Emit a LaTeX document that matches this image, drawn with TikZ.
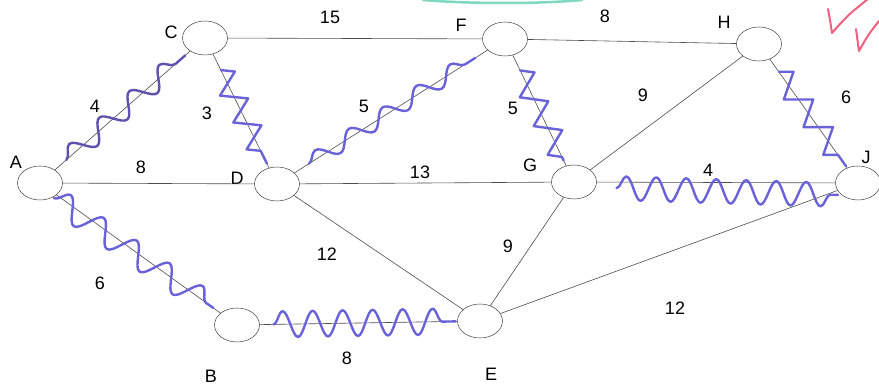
\documentclass[tikz,border=0pt]{standalone}
\usepackage{fontspec}
\setmainfont{Liberation Sans}
\usetikzlibrary{shapes.geometric,decorations.pathmorphing,calc}
\definecolor{pen}{HTML}{6A62D8}
\definecolor{darkpen}{HTML}{5A4A9A}
\definecolor{teal1}{HTML}{7FD8C0}
\definecolor{redpen}{HTML}{F06080}
\begin{document}
\begin{tikzpicture}[x=1pt,y=1pt,
  vert/.style={ellipse,draw=black!75,line width=0.5pt,minimum width=45pt,minimum height=34pt,inner sep=0pt},
  vlabel/.style={font=\fontsize{18}{20}\selectfont},
  wlabel/.style={font=\fontsize{18}{20}\selectfont},
  edge/.style={draw=black!70,line width=0.6pt},
  wavy/.style={draw=pen,line width=2.4pt,line cap=round,line join=round},
]
\useasboundingbox (0,0) rectangle (879,385);
% vertices
\node[vert] (A) at (40,202) {};
\node[vert] (C) at (205,347) {};
\node[vert] (D) at (277,201) {};
\node[vert] (F) at (505,346) {};
\node[vert] (G) at (574,203) {};
\node[vert] (H) at (759,341) {};
\node[vert] (J) at (858,202) {};
\node[vert] (B) at (237,60) {};
\node[vert] (E) at (480,64) {};
% vertex labels
\node[vlabel] (lA) at (16,223) {A};
\node[vlabel] (lC) at (171,353) {C};
\node[vlabel] (lD) at (237,207) {D};
\node[vlabel] (lF) at (461,360) {F};
\node[vlabel] (lG) at (530,220) {G};
\node[vlabel] (lH) at (724,363) {H};
\node[vlabel] (lJ) at (866,228) {J};
\node[vlabel] (lB) at (211,9) {B};
\node[vlabel] (lE) at (491,11) {E};
% edges
\draw[edge] (A) -- (C);
\draw[edge] (A) -- (D);
\draw[edge] (A) -- (B);
\draw[edge] (C) -- (F);
\draw[edge] (C) -- (D);
\draw[edge] (D) -- (F);
\draw[edge] (D) -- (G);
\draw[edge] (D) -- (E);
\draw[edge] (B) -- (E);
\draw[edge] (F) -- (H);
\draw[edge] (F) -- (G);
\draw[edge] (G) -- (H);
\draw[edge] (G) -- (J);
\draw[edge] (G) -- (E);
\draw[edge] (H) -- (J);
\draw[edge] (E) -- (J);
% weights
\node[wlabel] (wAC) at (95,279) {4};
\node[wlabel] (wCD) at (207,272) {3};
\node[wlabel] (wAD) at (141,218) {8};
\node[wlabel] (wCF) at (330,368) {15};
\node[wlabel] (wDF) at (364,279) {5};
\node[wlabel] (wFG) at (513,277) {5};
\node[wlabel] (wDG) at (420,213) {13};
\node[wlabel] (wFH) at (605,369) {8};
\node[wlabel] (wGH) at (643,290) {9};
\node[wlabel] (wHJ) at (846,288) {6};
\node[wlabel] (wGJ) at (708,215) {4};
\node[wlabel] (wDE) at (327,131) {12};
\node[wlabel] (wAB) at (100,102) {6};
\node[wlabel] (wBE) at (347,27) {8};
\node[wlabel] (wGE) at (508,139) {9};
\node[wlabel] (wEJ) at (675,77) {12};
% hand-drawn marks
\draw[wavy,draw=darkpen!70!pen,decorate,decoration={snake,amplitude=10pt,segment length=40pt}]
  ($(A)!0.16!(C)$) -- ($(A)!0.88!(C)$);
\draw[wavy,decorate,decoration={zigzag,amplitude=12pt,segment length=30pt}]
  ($(C)!0.22!(D)$) -- ($(C)!0.86!(D)$);
\draw[wavy,decorate,decoration={snake,amplitude=8pt,segment length=40pt}]
  ($(D)!0.14!(F)$) -- ($(D)!0.87!(F)$);
\draw[wavy,decorate,decoration={zigzag,amplitude=12pt,segment length=32pt}]
  ($(F)!0.22!(G)$) -- ($(F)!0.85!(G)$);
\draw[wavy,decorate,decoration={zigzag,amplitude=12pt,segment length=34pt}]
  ($(H)!0.2!(J)$) -- ($(H)!0.88!(J)$);
\draw[wavy,decorate,decoration={snake,amplitude=12pt,segment length=30pt}]
  ($(G)!0.15!(J)+(0,-6)$) -- ($(G)!0.93!(J)+(0,-12)$);
\draw[wavy,decorate,decoration={snake,amplitude=12pt,segment length=40pt}]
  ($(A)!0.07!(B)+(0,-5)$) -- ($(A)!0.88!(B)$);
\draw[wavy,decorate,decoration={snake,amplitude=13pt,segment length=30pt}]
  ($(B)!0.15!(E)$) -- ($(B)!0.9!(E)$);
% teal stroke at top
\draw[teal1,line width=2.5pt,line cap=round] (423,385) .. controls (470,381) and (540,381) .. (582,385);
% red checks
\draw[redpen,line width=2pt,line cap=round,line join=round] (828,376) .. controls (830,365) .. (832,352) .. controls (848,370) .. (868,386);
\draw[redpen,line width=2pt,line cap=round,line join=round] (856,356) .. controls (857,345) .. (859,334) .. controls (868,350) .. (879,364);
\end{tikzpicture}
\end{document}
